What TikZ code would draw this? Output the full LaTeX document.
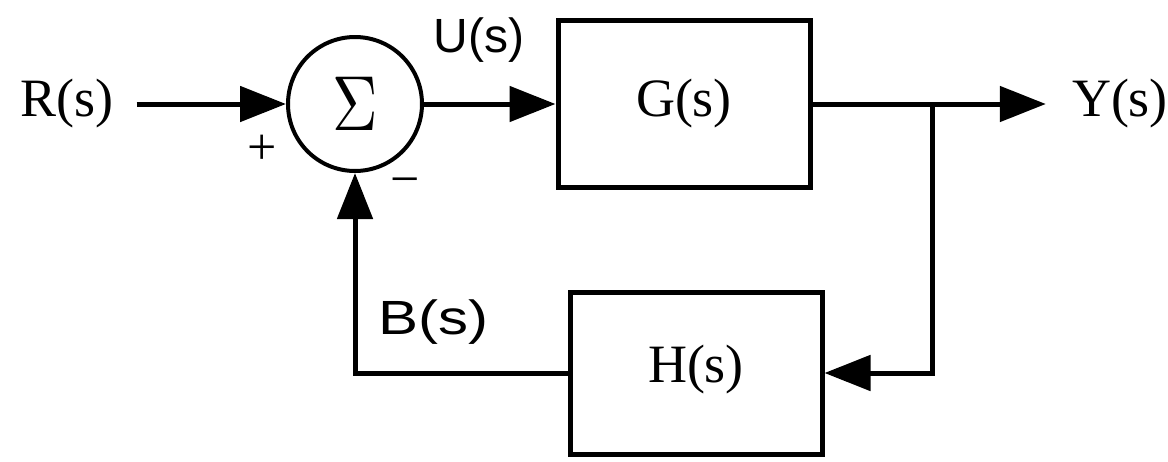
\documentclass[tikz,border=0pt]{standalone}
\usepackage{fontspec}
\setmainfont{Liberation Serif}
\newfontfamily\handfont{Liberation Sans}
\usetikzlibrary{arrows.meta}

\begin{document}
\begin{tikzpicture}[x=1pt,y=-1pt,
  sig/.style={line width=5pt,-{Triangle[length=46pt,width=35pt]}},
  wire/.style={line width=5pt},
  block/.style={draw,line width=5pt,minimum width=252pt,minimum height=167pt,inner sep=0pt},
  lbl/.style={font=\fontsize{54}{60}\selectfont,inner sep=0pt},
  hand/.style={font=\handfont\fontsize{48}{56}\selectfont,inner sep=0pt},
  sign/.style={font=\fontsize{52}{56}\selectfont,inner sep=0pt}]
  \useasboundingbox (0,0) rectangle (1168,461);

  % summing junction and blocks
  \node[draw,circle,line width=4pt,minimum size=134pt,inner sep=0pt] (sum) at (355,104)
    {\scalebox{6.3}[7.8]{$\Sigma$}};
  \node[block] (G) at (684,104) {};
  \node[lbl] at (G.center) {G(s)};
  \node[block,minimum width=252pt,minimum height=162pt] (H) at (696,373) {};
  \node[lbl] at ([yshift=3pt]H.center) {H(s)};

  % signals
  \node[lbl] (R) at (67,104) {R(s)};
  \node[lbl] (Y) at (1120,104) {Y(s)};
  \node[hand] (U) at (479,40) {U(s)};
  \node[hand,xscale=1.25] (B) at (433,322) {B(s)};
  \node[sign] (plus) at (262,150) {+};
  \node[sign] (minus) at (405,187) {−};

  \coordinate (br) at (932,104);

  % connectors
  \draw[sig,shorten <=23pt] (R.east) -- (sum.west);
  \draw[sig] (sum.east) -- (G.west);
  \draw[wire] (G.east) -- (br);
  \draw[sig,shorten >=26pt] (br) -- (Y.west);
  \draw[sig,line cap=rect] (br) |- (H.east);
  \draw[sig] (H.west) -| (sum.south);
\end{tikzpicture}
\end{document}
